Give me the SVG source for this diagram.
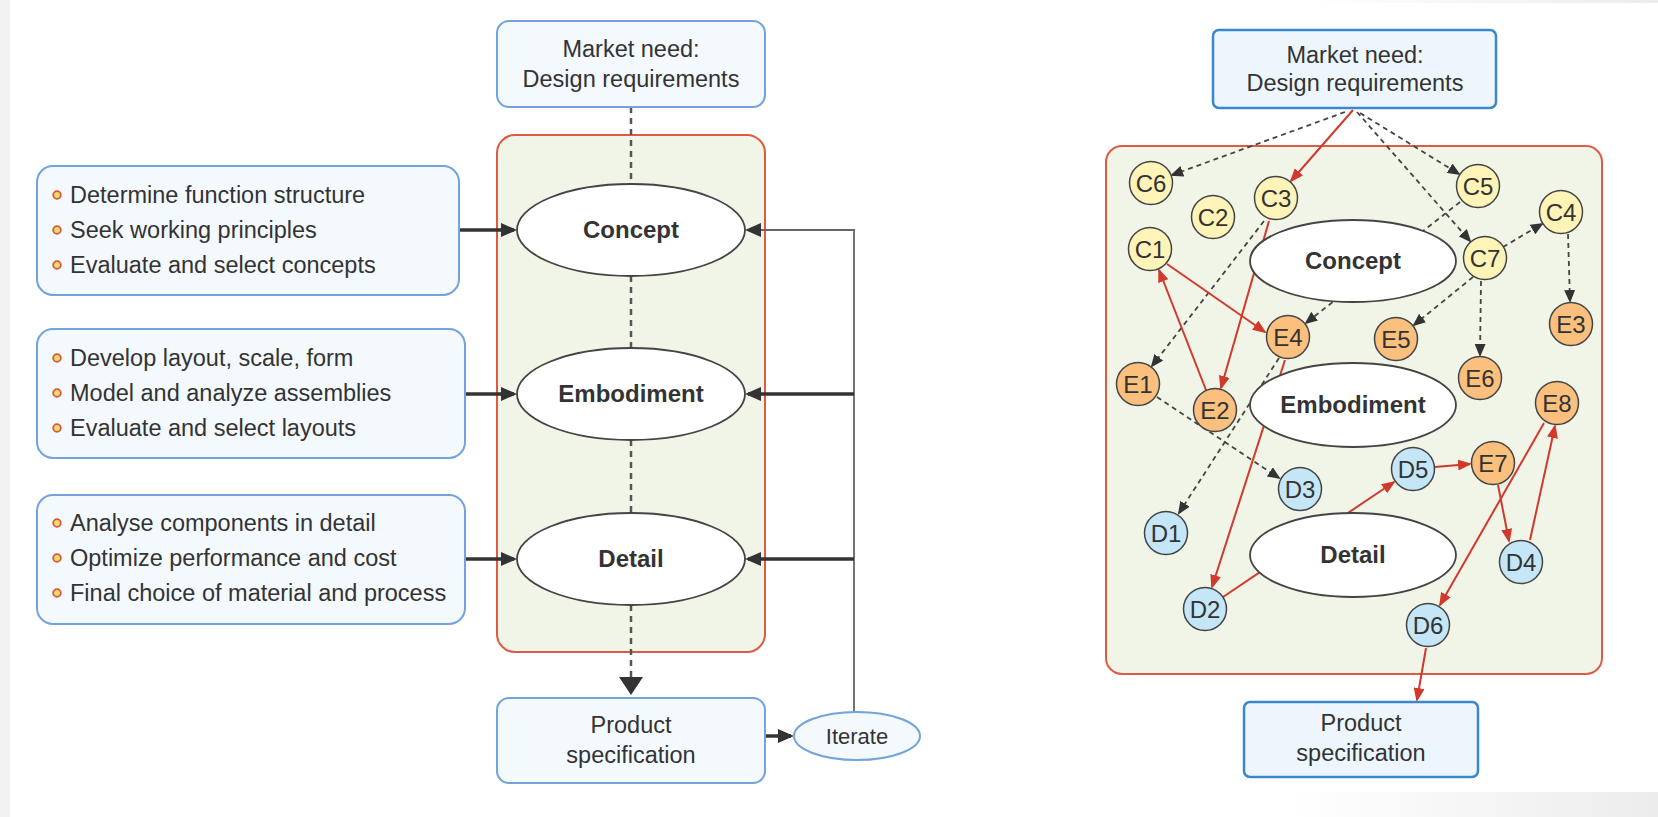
<svg xmlns="http://www.w3.org/2000/svg" width="1658" height="817" viewBox="0 0 1658 817">
<defs>
<style>
text{font-family:"Liberation Sans",Arial,Helvetica,sans-serif;fill:#333}
.t{font-size:23.5px}
.tc{font-size:23.5px;text-anchor:middle}
.lb{font-size:24px;font-weight:bold;text-anchor:middle}
.nl{font-size:24px;text-anchor:middle}
.bx{fill:#f4f9fe;stroke:#72a3da;stroke-width:2}
.bx2{fill:#eef6fd;stroke:#3b87cc;stroke-width:2.5}
.grp{fill:#f0f5e7;stroke:#de5a45;stroke-width:2}
.el{fill:#fff;stroke:#444;stroke-width:1.8}
.bul{fill:#e6df6a;stroke:#e0553a;stroke-width:1.8}
.dot{stroke:#555;stroke-width:2.5;stroke-dasharray:6 5;fill:none}
.thk{stroke:#333;stroke-width:3.5;fill:none}
.thn{stroke:#666;stroke-width:1.8;fill:none}
.dsh{stroke:#444;stroke-width:1.8;stroke-dasharray:5 4;fill:none;marker-end:url(#ahG)}
.red{stroke:#d2392b;stroke-width:2;fill:none;marker-end:url(#ahR)}
.n{stroke:#444;stroke-width:1.5}
.c{fill:#fff4b8}
.e{fill:#fbc07e}
.d{fill:#c4e6f6}
</style>
<linearGradient id="gb" x1="0" x2="1" y1="0" y2="0"><stop offset="0" stop-color="#ffffff"/><stop offset="1" stop-color="#ececec"/></linearGradient>
<marker id="ahD" markerUnits="userSpaceOnUse" markerWidth="16" markerHeight="14" refX="13" refY="7" orient="auto"><path d="M0,0 L16,7 L0,14 z" fill="#333"/></marker>
<marker id="ahBig" markerUnits="userSpaceOnUse" markerWidth="18" markerHeight="24" refX="15" refY="12" orient="auto"><path d="M0,0 L18,12 L0,24 z" fill="#333"/></marker>
<marker id="ahR" markerUnits="userSpaceOnUse" markerWidth="14" markerHeight="11" refX="12" refY="5.5" orient="auto"><path d="M0,0 L14,5.5 L0,11 z" fill="#d2392b"/></marker>
<marker id="ahG" markerUnits="userSpaceOnUse" markerWidth="13" markerHeight="11" refX="11" refY="5.5" orient="auto"><path d="M0,0 L13,5.5 L0,11 z" fill="#333"/></marker>
</defs>

<rect x="0" y="0" width="1658" height="817" fill="#fff"/>
<rect x="0" y="0" width="10" height="817" fill="#f2f2f2"/>
<rect x="1300" y="0" width="358" height="3" fill="url(#gb)"/>
<rect x="1290" y="792" width="368" height="25" fill="url(#gb)"/>

<!-- LEFT DIAGRAM -->
<g id="left-container"><rect class="grp" x="497" y="135" width="268" height="517" rx="18"/></g>

<g id="left-connectors">
<line class="dot" x1="631" y1="107" x2="631" y2="184"/>
<line class="dot" x1="631" y1="276" x2="631" y2="348"/>
<line class="dot" x1="631" y1="440" x2="631" y2="513"/>
<line class="dot" x1="631" y1="605" x2="631" y2="692" marker-end="url(#ahBig)"/>
<line class="thk" x1="459" y1="230" x2="514" y2="230" marker-end="url(#ahD)"/>
<line class="thk" x1="465" y1="394" x2="514" y2="394" marker-end="url(#ahD)"/>
<line class="thk" x1="465" y1="559" x2="514" y2="559" marker-end="url(#ahD)"/>
<polyline class="thn" points="854,712 854,230 748,230" marker-end="url(#ahD)"/>
<line class="thk" x1="854" y1="394" x2="748" y2="394" marker-end="url(#ahD)"/>
<line class="thk" x1="854" y1="559" x2="748" y2="559" marker-end="url(#ahD)"/>
<line class="thk" x1="765" y1="736" x2="791" y2="736" marker-end="url(#ahD)"/>
</g>

<g id="left-market">
<rect class="bx" x="497" y="21" width="268" height="86" rx="12"/>
<text class="tc" x="631" y="57">Market need:</text>
<text class="tc" x="631" y="87">Design requirements</text>
</g>

<g id="left-box-concept">
<rect class="bx" x="37" y="166" width="422" height="129" rx="16"/>
<circle class="bul" cx="57" cy="195" r="3.8"/>
<circle class="bul" cx="57" cy="230" r="3.8"/>
<circle class="bul" cx="57" cy="265" r="3.8"/>
<text class="t" x="70" y="203">Determine function structure</text>
<text class="t" x="70" y="238">Seek working principles</text>
<text class="t" x="70" y="273">Evaluate and select concepts</text>
</g>

<g id="left-box-embodiment">
<rect class="bx" x="37" y="329" width="428" height="129" rx="16"/>
<circle class="bul" cx="57" cy="358" r="3.8"/>
<circle class="bul" cx="57" cy="393" r="3.8"/>
<circle class="bul" cx="57" cy="428" r="3.8"/>
<text class="t" x="70" y="366">Develop layout, scale, form</text>
<text class="t" x="70" y="401">Model and analyze assemblies</text>
<text class="t" x="70" y="436">Evaluate and select layouts</text>
</g>

<g id="left-box-detail">
<rect class="bx" x="37" y="495" width="428" height="129" rx="16"/>
<circle class="bul" cx="57" cy="523" r="3.8"/>
<circle class="bul" cx="57" cy="558" r="3.8"/>
<circle class="bul" cx="57" cy="593" r="3.8"/>
<text class="t" x="70" y="531">Analyse components in detail</text>
<text class="t" x="70" y="566">Optimize performance and cost</text>
<text class="t" x="70" y="601">Final choice of material and process</text>
</g>

<g id="left-concept"><ellipse class="el" cx="631" cy="230" rx="114" ry="46"/><text class="lb" x="631" y="238">Concept</text></g>
<g id="left-embodiment"><ellipse class="el" cx="631" cy="394" rx="114" ry="46"/><text class="lb" x="631" y="402">Embodiment</text></g>
<g id="left-detail"><ellipse class="el" cx="631" cy="559" rx="114" ry="46"/><text class="lb" x="631" y="567">Detail</text></g>

<g id="left-product">
<rect class="bx" x="497" y="698" width="268" height="85" rx="12"/>
<text class="tc" x="631" y="733">Product</text>
<text class="tc" x="631" y="763">specification</text>
</g>

<g id="left-iterate">
<ellipse class="bx" cx="857" cy="736" rx="63" ry="24"/>
<text x="857" y="744" style="font-size:22px;text-anchor:middle">Iterate</text>
</g>

<!-- RIGHT DIAGRAM -->
<g id="right-container"><rect class="grp" x="1106" y="146" width="496" height="528" rx="16"/></g>

<g id="right-connectors">
<path class="dsh" d="M1345,112 L1172,175"/>
<path class="dsh" d="M1360,113 L1459,174"/>
<path class="dsh" d="M1357,112 L1470,241"/>
<path class="dsh" d="M1503,247 L1542,224"/>
<path class="dsh" d="M1568,234 L1570,301"/>
<path class="dsh" d="M1473,277 L1414,325"/>
<path class="dsh" d="M1481,281 L1480,355"/>
<path class="dsh" d="M1460,202 L1306,323"/>
<path class="dsh" d="M1264,221 L1152,366"/>
<path class="dsh" d="M1279,358 L1179,513"/>
<path class="dsh" d="M1157,397 L1279,478"/>
<path class="red" d="M1353,110 L1291,181"/>
<path class="red" d="M1269,221 L1221,388"/>
<path class="red" d="M1206,390 L1159,270"/>
<path class="red" d="M1167,264 L1265,332"/>
<path class="red" d="M1285,360 L1212,587"/>
<path class="red" d="M1223,597 L1394,482"/>
<path class="red" d="M1435,467 L1470,464"/>
<path class="red" d="M1498,485 L1509,541"/>
<path class="red" d="M1530,540 L1555,426"/>
<path class="red" d="M1544,423 L1440,605"/>
<path class="red" d="M1426,648 L1417,700"/>
</g>

<g id="right-market">
<rect class="bx2" x="1213" y="30" width="283" height="78" rx="6"/>
<text class="tc" x="1355" y="63">Market need:</text>
<text class="tc" x="1355" y="91">Design requirements</text>
</g>

<g id="right-concept"><ellipse class="el" cx="1353" cy="261" rx="103" ry="41"/><text class="lb" x="1353" y="269">Concept</text></g>
<g id="right-embodiment"><ellipse class="el" cx="1353" cy="405" rx="103" ry="42"/><text class="lb" x="1353" y="413">Embodiment</text></g>
<g id="right-detail"><ellipse class="el" cx="1353" cy="555" rx="103" ry="42"/><text class="lb" x="1353" y="563">Detail</text></g>

<g id="right-product">
<rect class="bx2" x="1244" y="702" width="234" height="75" rx="6"/>
<text class="tc" x="1361" y="731">Product</text>
<text class="tc" x="1361" y="761">specification</text>
</g>

<g id="C6"><circle class="n c" cx="1151" cy="183" r="21.5"/><text class="nl" x="1151" y="191.5">C6</text></g>
<g id="C2"><circle class="n c" cx="1213" cy="217" r="21.5"/><text class="nl" x="1213" y="225.5">C2</text></g>
<g id="C3"><circle class="n c" cx="1276" cy="198" r="21.5"/><text class="nl" x="1276" y="206.5">C3</text></g>
<g id="C1"><circle class="n c" cx="1150" cy="249" r="21.5"/><text class="nl" x="1150" y="257.5">C1</text></g>
<g id="C5"><circle class="n c" cx="1478" cy="186" r="21.5"/><text class="nl" x="1478" y="194.5">C5</text></g>
<g id="C4"><circle class="n c" cx="1561" cy="212" r="21.5"/><text class="nl" x="1561" y="220.5">C4</text></g>
<g id="C7"><circle class="n c" cx="1485" cy="258" r="21.5"/><text class="nl" x="1485" y="266.5">C7</text></g>

<g id="E4"><circle class="n e" cx="1288" cy="337" r="21.5"/><text class="nl" x="1288" y="345.5">E4</text></g>
<g id="E5"><circle class="n e" cx="1396" cy="339" r="21.5"/><text class="nl" x="1396" y="347.5">E5</text></g>
<g id="E3"><circle class="n e" cx="1571" cy="324" r="21.5"/><text class="nl" x="1571" y="332.5">E3</text></g>
<g id="E1"><circle class="n e" cx="1138" cy="384" r="21.5"/><text class="nl" x="1138" y="392.5">E1</text></g>
<g id="E2"><circle class="n e" cx="1215" cy="410" r="21.5"/><text class="nl" x="1215" y="418.5">E2</text></g>
<g id="E6"><circle class="n e" cx="1480" cy="378" r="21.5"/><text class="nl" x="1480" y="386.5">E6</text></g>
<g id="E8"><circle class="n e" cx="1557" cy="403" r="21.5"/><text class="nl" x="1557" y="411.5">E8</text></g>
<g id="E7"><circle class="n e" cx="1493" cy="463" r="21.5"/><text class="nl" x="1493" y="471.5">E7</text></g>

<g id="D5"><circle class="n d" cx="1413" cy="469" r="21.5"/><text class="nl" x="1413" y="477.5">D5</text></g>
<g id="D3"><circle class="n d" cx="1300" cy="489" r="21.5"/><text class="nl" x="1300" y="497.5">D3</text></g>
<g id="D1"><circle class="n d" cx="1166" cy="533" r="21.5"/><text class="nl" x="1166" y="541.5">D1</text></g>
<g id="D4"><circle class="n d" cx="1521" cy="562" r="21.5"/><text class="nl" x="1521" y="570.5">D4</text></g>
<g id="D2"><circle class="n d" cx="1205" cy="609" r="21.5"/><text class="nl" x="1205" y="617.5">D2</text></g>
<g id="D6"><circle class="n d" cx="1428" cy="625" r="21.5"/><text class="nl" x="1428" y="633.5">D6</text></g>
</svg>
